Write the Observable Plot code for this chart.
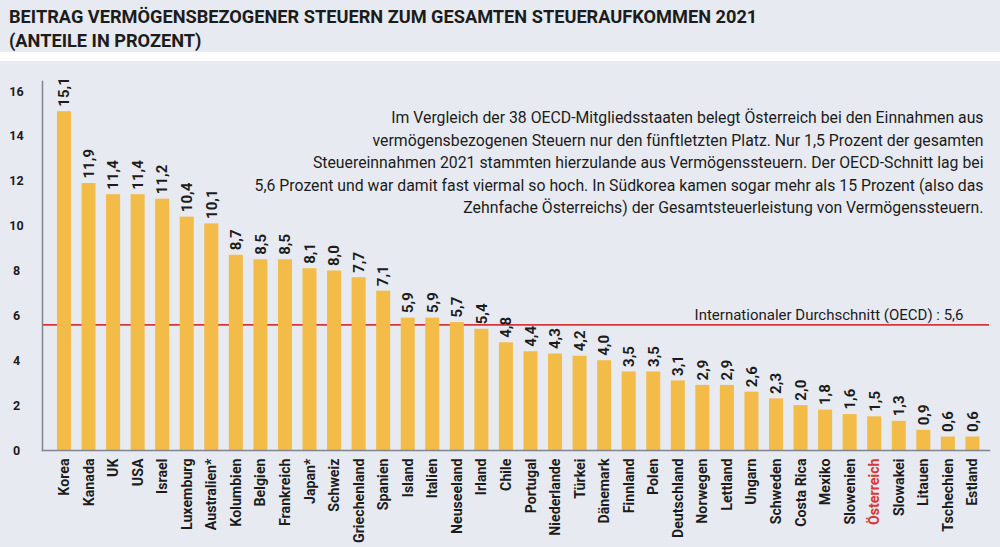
<!DOCTYPE html>
<html>
<head>
<meta charset="utf-8">
<script src="https://cdn.jsdelivr.net/npm/d3@7"></script>
<script src="https://cdn.jsdelivr.net/npm/@observablehq/plot@0.6"></script>
<style>
  html, body { margin: 0; padding: 0; background: #ffffff; }
  body { width: 1000px; height: 547px; overflow: hidden; font-family: "Roboto", sans-serif; }
  #title { background: #e7eaf0; height: 52px; box-sizing: border-box; padding: 5px 0 0 9px;
    font-family: "Roboto", sans-serif; font-weight: 700; font-size: 18.2px; line-height: 24px; color: #1c1c1c; }
  #gap { height: 9px; background: #ffffff; }
  #chart { background: #e7eaf0; height: 486px; }
  #chart svg { display: block; }
</style>
</head>
<body>
<div id="title">BEITRAG VERMÖGENSBEZOGENER STEUERN ZUM GESAMTEN STEUERAUFKOMMEN 2021<br>(ANTEILE IN PROZENT)</div>
<div id="gap"></div>
<div id="chart"></div>
<script>
const countries = ["Korea","Kanada","UK","USA","Israel","Luxemburg","Australien*","Kolumbien","Belgien","Frankreich","Japan*","Schweiz","Griechenland","Spanien","Island","Italien","Neuseeland","Irland","Chile","Portugal","Niederlande","Türkei","Dänemark","Finnland","Polen","Deutschland","Norwegen","Lettland","Ungarn","Schweden","Costa Rica","Mexiko","Slowenien","Österreich","Slowakei","Litauen","Tschechien","Estland"];
const values = [15.1,11.9,11.4,11.4,11.2,10.4,10.1,8.7,8.5,8.5,8.1,8.0,7.7,7.1,5.9,5.9,5.7,5.4,4.8,4.4,4.3,4.2,4.0,3.5,3.5,3.1,2.9,2.9,2.6,2.3,2.0,1.8,1.6,1.5,1.3,0.9,0.6,0.6];
const yTicks = [0,2,4,6,8,10,12,14,16];
const oecdAverage = 5.6;
const averageLabel = "Internationaler Durchschnitt (OECD) : 5,6";
const highlight = "Österreich";
const noteLines = [
  "Im Vergleich der 38 OECD-Mitgliedsstaaten belegt Österreich bei den Einnahmen aus",
  "vermögensbezogenen Steuern nur den fünftletzten Platz. Nur 1,5 Prozent der gesamten",
  "Steuereinnahmen 2021 stammten hierzulande aus Vermögenssteuern. Der OECD-Schnitt lag bei",
  "5,6 Prozent und war damit fast viermal so hoch. In Südkorea kamen sogar mehr als 15 Prozent (also das",
  "Zehnfache Österreichs) der Gesamtsteuerleistung von Vermögenssteuern."
];

const data = countries.map((c, i) => ({country: c, value: values[i]}));
const fmt = v => d3.format(".1f")(v).replace(".", ",");
const font = "Roboto, sans-serif";

const chart = Plot.plot({
  width: 1000,
  height: 486,
  marginTop: 20,
  marginBottom: 97,
  marginLeft: 42,
  marginRight: 11,
  style: {background: "transparent", fontFamily: font, color: "#1c1c1c"},
  x: {domain: countries, padding: 0.43, paddingOuter: 0.5, align: 0.61, round: false, axis: null},
  y: {domain: [0, 16], insetTop: 10, axis: null},
  marks: [
    Plot.ruleY([oecdAverage], {stroke: "#d7373b", strokeWidth: 1.8}),
    Plot.barY(data, {x: "country", y: "value", fill: "#f3bb47"}),
    Plot.frame({anchor: "left", stroke: "#80858e", strokeWidth: 1.5}),
    Plot.frame({anchor: "bottom", stroke: "#80858e", strokeWidth: 1.5}),
    Plot.text(yTicks, {y: d => d, frameAnchor: "left", text: d => String(d), dx: -26, textAnchor: "middle", fontWeight: "bold", fontSize: 12.5, fill: "#1c1c1c"}),
    Plot.text(data, {x: "country", y: "value", text: d => fmt(d.value), rotate: -90, textAnchor: "start", lineAnchor: "middle", dy: -5, fontWeight: "bold", fontSize: 15, fill: "#1c1c1c"}),
    Plot.text(countries, {x: d => d, frameAnchor: "bottom", text: d => d, rotate: -90, textAnchor: "end", lineAnchor: "middle", dy: 8, fontWeight: "bold", fontSize: 14.2, fill: d => d === highlight ? "#d7373b" : "#1c1c1c"}),
    Plot.text([noteLines.join("\n")], {frameAnchor: "top-right", text: d => d, textAnchor: "end", lineAnchor: "top", lineHeight: 1.42, dx: -6, dy: 26, fontSize: 15.8, fill: "#1c1c1c"}),
    Plot.text([averageLabel], {y: () => oecdAverage, frameAnchor: "right", text: d => d, textAnchor: "end", lineAnchor: "bottom", dx: -26, dy: -5, fontSize: 15, fill: "#1c1c1c"})
  ]
});
document.getElementById("chart").appendChild(chart);
</script>
</body>
</html>
